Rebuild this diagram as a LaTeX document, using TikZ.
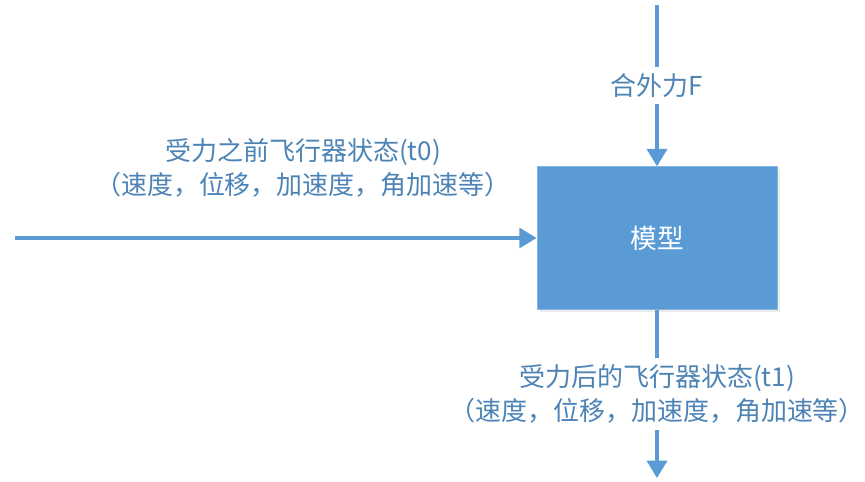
\documentclass[tikz,border=0pt]{standalone}
\usepackage{fontspec}
\newfontfamily\cjk{Noto Sans CJK SC}
\usetikzlibrary{arrows.meta, positioning, shadows}
\definecolor{azulmodelo}{HTML}{5B9BD5}
\colorlet{colModelo}{azulmodelo}
\colorlet{colFlecha}{azulmodelo}
\colorlet{colTexto}{azulmodelo!85!black}
\tikzset{
  cajaModelo/.style={
    fill=colModelo, draw=colModelo!75!white, line width=0.6pt,
    minimum width=180pt, minimum height=107pt,
    text=white, font=\cjk\fontsize{20}{24}\selectfont,
    drop shadow={opacity=0.15, shadow xshift=2pt, shadow yshift=-2pt}
  },
  flecha/.style={-{Triangle[length=13pt, width=15pt]}, line width=2.6pt, colFlecha},
  etiquetaFlecha/.style={font=\cjk\fontsize{19.5}{25}\selectfont, text=colTexto,
    fill=white, align=center, inner xsep=1pt, inner ysep=5pt},
}
\begin{document}
\begin{tikzpicture}[x=0.75pt, y=-0.75pt]
    \useasboundingbox[fill=white] (0,0) rectangle (865,482);
    \node[cajaModelo] (modelo) at (657,238) {模型};
    \coordinate (fuerza) at (657,5);
    \coordinate (entrada) at (15,238);
    \coordinate (salida) at (657,478);

    \draw[flecha] (fuerza) -- node[etiquetaFlecha]{合外力F} (modelo.north);
    \draw[flecha] (entrada) -- (modelo.west);
    \node[etiquetaFlecha, fill=none] (estadoInicial) at (303,168) {受力之前飞行器状态(t0)\\（速度，位移，加速度，角加速等）};
    \draw[flecha] (modelo.south) -- node[etiquetaFlecha] (estadoFinal) {受力后的飞行器状态(t1)\\（速度，位移，加速度，角加速等）} (salida);
  \end{tikzpicture}
\end{document}
